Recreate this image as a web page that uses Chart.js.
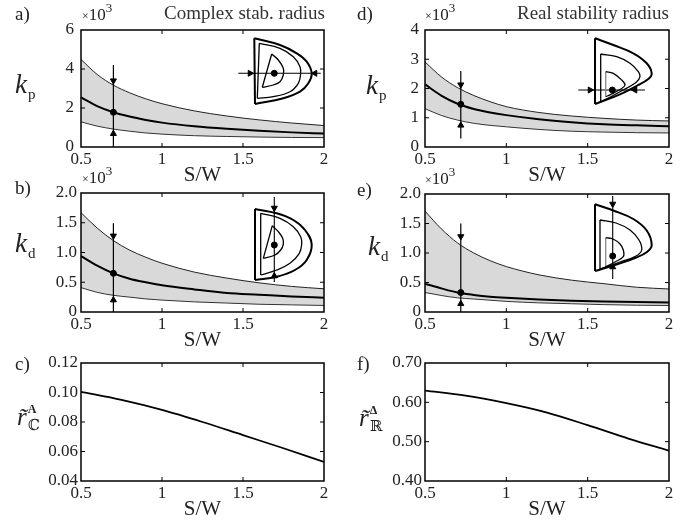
<!DOCTYPE html>
<html>
<head>
<meta charset="utf-8">
<script src="https://cdn.jsdelivr.net/npm/chart.js@4.4.0/dist/chart.umd.min.js"></script>
<style>
  body { margin: 0; background: #fff; width: 694px; height: 520px; position: relative; overflow: hidden;
         font-family: "Liberation Serif", "DejaVu Serif", serif; color: #222; }
  canvas { position: absolute; }
  .t { position: absolute; white-space: nowrap; line-height: 1; }
</style>
</head>
<body>
<canvas id="pa"></canvas><canvas id="pb"></canvas><canvas id="pc"></canvas>
<canvas id="pd"></canvas><canvas id="pe"></canvas><canvas id="pf"></canvas>
<canvas id="ia"></canvas><canvas id="ib"></canvas><canvas id="id"></canvas><canvas id="ie"></canvas>
<script>
// S/W grid used for the gain curves
const sw = [0.5, 0.6, 0.7, 0.8, 0.9, 1.0, 1.2, 1.4, 1.6, 1.8, 2.0];
const swTicks = [0.5, 1, 1.5, 2];

// a) kp, complex stability radius (x10^3)
const kpCUpper = [4.49, 3.72, 3.17, 2.78, 2.47, 2.22, 1.85, 1.59, 1.39, 1.23, 1.1];
const kpCMid   = [2.54, 2.1, 1.78, 1.56, 1.39, 1.25, 1.06, 0.93, 0.83, 0.75, 0.69];
const kpCLower = [1.29, 1.07, 0.92, 0.81, 0.72, 0.66, 0.58, 0.54, 0.51, 0.49, 0.48];
// b) kd, complex
const kdCUpper = [1.67, 1.41, 1.2, 1.04, 0.92, 0.82, 0.67, 0.57, 0.49, 0.43, 0.39];
const kdCMid   = [0.94, 0.78, 0.65, 0.56, 0.5, 0.45, 0.38, 0.32, 0.29, 0.26, 0.24];
const kdCLower = [0.41, 0.33, 0.28, 0.25, 0.22, 0.2, 0.17, 0.15, 0.13, 0.12, 0.11];
// d) kp, real stability radius
const kpRUpper = [2.91, 2.4, 2.03, 1.76, 1.55, 1.38, 1.18, 1.06, 0.98, 0.92, 0.89];
const kpRMid   = [2.14, 1.76, 1.48, 1.3, 1.18, 1.09, 0.95, 0.85, 0.78, 0.74, 0.71];
const kpRLower = [1.31, 1.08, 0.92, 0.81, 0.74, 0.69, 0.6, 0.54, 0.51, 0.49, 0.48];
// e) kd, real
const kdRUpper = [1.71, 1.41, 1.17, 1.0, 0.87, 0.77, 0.63, 0.54, 0.48, 0.42, 0.39];
const kdRMid   = [0.48, 0.4, 0.33, 0.29, 0.26, 0.24, 0.21, 0.19, 0.18, 0.17, 0.16];
const kdRLower = [0.33, 0.28, 0.24, 0.22, 0.2, 0.18, 0.155, 0.14, 0.125, 0.115, 0.11];

// c) and f) stability radius
const swR = [0.5, 0.75, 1, 1.25, 1.5, 1.75, 2];
const rComplex = [0.1005, 0.095, 0.0882, 0.08, 0.0711, 0.0622, 0.053];
const rReal = [0.63, 0.617, 0.598, 0.574, 0.542, 0.508, 0.477];

// tick values / labels
const kpCTicks = [0, 2, 4, 6];
const kpRTicks = [0, 1, 2, 3, 4];
const kdTicks = [0, 0.5, 1, 1.5, 2];
const kdTickLabels = ['0', '0.5', '1.0', '1.5', '2.0'];
const rCTicks = [0.04, 0.06, 0.08, 0.1, 0.12];
const rCTickLabels = ['0.04', '0.06', '0.08', '0.10', '0.12'];
const rRTicks = [0.4, 0.5, 0.6, 0.7];
const rRTickLabels = ['0.40', '0.50', '0.60', '0.70'];

// operating point markers: x, line from/to, down arrow, up arrow, dot
const markA = { x: 0.7, y0: 0, y1: 4.2, down: 3.4, up: 0.68, dot: 1.78 };
const markB = { x: 0.7, y0: 0, y1: 1.49, down: 1.28, up: 0.2, dot: 0.65 };
const markD = { x: 0.72, y0: 0.29, y1: 2.6, down: 2.13, up: 0.74, dot: 1.46 };
const markE = { x: 0.72, y0: 0, y1: 1.5, down: 1.28, up: 0.14, dot: 0.33 };

// inset sketches (local units of each inset box, y downward)
const aOuter = [[22.3,4.3],[48,11],[64.7,19.3],[74.7,27.7],[79.7,39.3],[76.3,49.3],[68,57.7],[51.3,64.3],[23,70]];
const aMid = [[27.3,9.3],[48,14.3],[61.3,22.7],[68,32.7],[68.5,41],[66.3,49.3],[58,57.7],[41.3,62.7],[25.3,64.3]];
const aInner = [[39.7,20],[46.3,26],[51.3,34.3],[51.3,41],[48,47.7],[41.3,51],[30.3,53.3]];
const aLine = [[6.3,39.3],[88.7,39.3]];
const aArrows = [[18,39.3,90],[83,39.3,270]];
const aDot = [42.3,39.3];

const bOuter = [[15,19],[36.7,23.3],[53.3,30],[65,40],[71.7,54.3],[66.7,70],[55,80],[36.7,86.7],[15,90]];
const bMid = [[20.7,23.3],[40,28.3],[53.3,36.7],[60.7,46.7],[61.7,54.3],[59.3,63.3],[50,73.3],[36.7,80],[20.7,85]];
const bInner = [[32.3,35.7],[38.3,41.7],[42.7,48.3],[43.3,54.3],[40.7,60],[35,65],[23.3,68.3]];
const bLine = [[34.3,7],[34.3,92]];
const bArrows = [[34.3,18,180],[34.3,86,0]];
const bDot = [34.3,55];

const dOuter = [[25,8.3],[43.3,15],[63.3,23.3],[76.7,33.3],[81.7,43.3],[78.3,49],[66,56.3],[50,64.3],[25,74]];
const dMid = [[30.7,24],[46.7,26.7],[60,33.3],[68.3,41.7],[70,46.7],[66,52.5],[50,61.7],[33.3,70.7],[30.7,71.7]];
const dInner = [[35.7,41.7],[43.3,43.3],[51.7,50],[55,55],[50,59.5],[40,64.8],[35.7,66.7]];
const dLine = [[8.3,60],[75,60]];
const dArrows = [[20,60,90],[65,60,270]];
const dDot = [42.3,60];

const eOuter = [[25,12.3],[43.3,18.5],[63.3,27],[76.7,38.5],[81.7,53],[77,60],[65,66],[48,72],[25,79]];
const eMid = [[30,28],[46,31],[60,38],[69,48],[71.7,58],[66,64],[50,70],[30,77]];
const eInner = [[35.7,45.7],[43,47],[50,52],[53.3,58],[53.3,64.7],[45,70],[35.7,74.7]];
const eLine = [[42.7,4],[42.7,87]];
const eArrows = [[42.7,12,180],[42.7,75,0]];
const eDot = [42.7,64];

const FONT = "'Liberation Serif', 'DejaVu Serif', serif";
Chart.defaults.font.family = FONT;
Chart.defaults.font.size = 17;
Chart.defaults.color = '#222';

const pts = (xs, ys) => xs.map((v, i) => ({ x: v, y: ys[i] }));
const xy = arr => arr.map(p => ({ x: p[0], y: p[1] }));

// box frame with inward ticks, matlab style
const frame = {
  id: 'frame',
  afterDatasetsDraw(chart) {
    const { ctx, chartArea: a, scales } = chart;
    const L = 4;
    ctx.save();
    ctx.strokeStyle = '#000';
    ctx.lineWidth = 1;
    ctx.beginPath();
    scales.x.ticks.forEach(t => {
      const p = scales.x.getPixelForValue(t.value);
      if (p <= a.left + 1 || p >= a.right - 1) return;
      ctx.moveTo(p, a.bottom); ctx.lineTo(p, a.bottom - L);
      ctx.moveTo(p, a.top); ctx.lineTo(p, a.top + L);
    });
    scales.y.ticks.forEach(t => {
      const p = scales.y.getPixelForValue(t.value);
      if (p <= a.top + 1 || p >= a.bottom - 1) return;
      ctx.moveTo(a.left, p); ctx.lineTo(a.left + L, p);
      ctx.moveTo(a.right, p); ctx.lineTo(a.right - L, p);
    });
    ctx.stroke();
    ctx.lineWidth = 1.5;
    ctx.strokeRect(a.left, a.top, a.right - a.left, a.bottom - a.top);
    ctx.restore();
  }
};

function bandSets(lower, upper, mid, m) {
  const line = { pointRadius: 0, cubicInterpolationMode: 'monotone', fill: false };
  const arrow = { showLine: false, pointStyle: 'triangle', pointRadius: 3.5,
                  backgroundColor: '#000', borderColor: '#000', borderWidth: 1 };
  return [
    { ...line, data: pts(sw, lower), borderColor: '#333', borderWidth: 1, order: 4 },
    { ...line, data: pts(sw, upper), borderColor: '#222', borderWidth: 1, order: 5,
      fill: '-1', backgroundColor: '#d9d9d9' },
    { ...line, data: pts(sw, mid), borderColor: '#000', borderWidth: 2, order: 3 },
    { data: [{ x: m.x, y: m.y0 }, { x: m.x, y: m.y1 }], borderColor: '#000', borderWidth: 1.2,
      pointRadius: 0, order: 2 },
    { ...arrow, data: [{ x: m.x, y: m.down }], rotation: 180, order: 1 },
    { ...arrow, data: [{ x: m.x, y: m.up }], rotation: 0, order: 1 },
    { data: [{ x: m.x, y: m.dot }], showLine: false, pointRadius: 3, backgroundColor: '#000',
      borderColor: '#000', order: 0 }
  ];
}

function panel(id, col, plot, yMin, yMax, yTicks, yLabels, datasets, tickPad) {
  const cv = document.getElementById(id);
  const top = plot.top - 12;
  cv.width = 347;
  cv.height = plot.bottom - top + 42;
  cv.style.left = col + 'px';
  cv.style.top = top + 'px';
  new Chart(cv, {
    type: 'line',
    data: { datasets },
    options: {
      responsive: false,
      animation: false,
      events: [],
      layout: { autoPadding: false, padding: { top: 12, right: col + 347 - plot.right, left: 0, bottom: 0 } },
      plugins: { legend: { display: false }, tooltip: { enabled: false } },
      scales: {
        x: {
          type: 'linear', min: 0.5, max: 2,
          afterBuildTicks: s => { s.ticks = swTicks.map(v => ({ value: v })); },
          afterFit: s => { s.height = 42; s.paddingLeft = 0; s.paddingRight = 0; },
          grid: { display: false, drawTicks: false },
          border: { display: false },
          ticks: { padding: 2, autoSkip: false, maxRotation: 0, color: '#222',
                   font: { family: FONT, size: 17 }, callback: v => String(v) },
          title: { display: true, text: 'S/W', font: { family: FONT, size: 21 }, color: '#222',
                   padding: { top: 0, bottom: 1 } }
        },
        y: {
          type: 'linear', min: yMin, max: yMax,
          afterBuildTicks: s => { s.ticks = yTicks.map(v => ({ value: v })); },
          afterFit: s => { s.width = plot.left - col; s.paddingTop = 0; s.paddingBottom = 0; },
          grid: { display: false, drawTicks: false },
          border: { display: false },
          ticks: { padding: tickPad, autoSkip: false, color: '#222',
                   font: { family: FONT, size: 17 }, callback: (v, i) => yLabels[i] }
        }
      }
    },
    plugins: [frame]
  });
}

function inset(id, left, top, w, h, outer, mid, inner, mline, arrows, dot, innerEdgeColor) {
  const cv = document.getElementById(id);
  cv.width = w; cv.height = h;
  cv.style.left = left + 'px'; cv.style.top = top + 'px';
  const curve = { pointRadius: 0, tension: 0.4, fill: false, borderColor: '#000', clip: false };
  const edge = { pointRadius: 0, tension: 0, fill: false, borderColor: '#000', clip: false };
  const first = a => a[0], last = a => a[a.length - 1];
  new Chart(cv, {
    type: 'line',
    data: {
      datasets: [
        { ...curve, data: xy(outer), borderWidth: 2 },
        { ...edge, data: xy([last(outer), first(outer)]), borderWidth: 2 },
        { ...curve, data: xy(mid), borderWidth: 1.3 },
        { ...edge, data: xy([last(mid), first(mid)]), borderWidth: 1.3 },
        { ...curve, data: xy(inner), borderWidth: 1.3 },
        { ...edge, data: xy([last(inner), first(inner)]), borderWidth: 1.3, borderColor: innerEdgeColor },
        { ...edge, data: xy(mline), borderWidth: 1.1 },
        ...arrows.map(a => ({ data: [{ x: a[0], y: a[1] }], showLine: false, pointStyle: 'triangle',
          pointRadius: 3.5, rotation: a[2], backgroundColor: '#000', borderColor: '#000', clip: false })),
        { data: [{ x: dot[0], y: dot[1] }], showLine: false, pointRadius: 3, backgroundColor: '#000',
          borderColor: '#000', clip: false }
      ]
    },
    options: {
      responsive: false, animation: false, events: [],
      layout: { autoPadding: false, padding: 0 },
      plugins: { legend: { display: false }, tooltip: { enabled: false } },
      scales: {
        x: { type: 'linear', min: 0, max: w, display: false },
        y: { type: 'linear', min: 0, max: h, reverse: true, display: false }
      }
    }
  });
}

panel('pa', 0, { left: 81, right: 324, top: 30, bottom: 147 }, 0, 6, kpCTicks, kpCTicks.map(String),
      bandSets(kpCLower, kpCUpper, kpCMid, markA), 7);
panel('pb', 0, { left: 81, right: 324, top: 193, bottom: 312 }, 0, 2, kdTicks, kdTickLabels,
      bandSets(kdCLower, kdCUpper, kdCMid, markB), 4);
panel('pc', 0, { left: 81, right: 324, top: 363, bottom: 481 }, 0.04, 0.12, rCTicks, rCTickLabels,
      [{ data: pts(swR, rComplex), borderColor: '#000', borderWidth: 1.8, pointRadius: 0,
         cubicInterpolationMode: 'monotone', fill: false }], 3);
panel('pd', 347, { left: 425, right: 669, top: 30, bottom: 147 }, 0, 4, kpRTicks, kpRTicks.map(String),
      bandSets(kpRLower, kpRUpper, kpRMid, markD), 6);
panel('pe', 347, { left: 425, right: 669, top: 194, bottom: 312 }, 0, 2, kdTicks, kdTickLabels,
      bandSets(kdRLower, kdRUpper, kdRMid, markE), 4);
panel('pf', 347, { left: 425, right: 669, top: 363, bottom: 481 }, 0.4, 0.7, rRTicks, rRTickLabels,
      [{ data: pts(swR, rReal), borderColor: '#000', borderWidth: 1.8, pointRadius: 0,
         cubicInterpolationMode: 'monotone', fill: false }], 3);

inset('ia', 232, 34, 96, 76, aOuter, aMid, aInner, aLine, aArrows, aDot, '#000');
inset('ib', 240, 190, 90, 96, bOuter, bMid, bInner, bLine, bArrows, bDot, '#000');
inset('id', 570, 30, 100, 80, dOuter, dMid, dInner, dLine, dArrows, dDot, '#888');
inset('ie', 570, 192, 100, 92, eOuter, eMid, eInner, eLine, eArrows, eDot, '#888');

// text: panel letters, titles, axis symbols
function label(html, x, baseline, size, opts = {}) {
  const el = document.createElement('div');
  el.className = 't';
  el.innerHTML = html;
  el.style.fontSize = size + 'px';
  el.style.top = (baseline - 0.84 * size) + 'px';
  if (opts.right) el.style.right = (694 - x) + 'px'; else el.style.left = x + 'px';
  if (opts.color) el.style.color = opts.color;
  document.body.appendChild(el);
}
label('a)', 15, 20, 19); label('b)', 15, 194, 19); label('c)', 15, 370, 19);
label('d)', 357, 20, 19); label('e)', 357, 196, 19); label('f)', 357, 370, 19);
label('Complex stab. radius', 325, 19, 19, { right: true, color: '#333' });
label('Real stability radius', 669, 19, 19, { right: true, color: '#333' });
const times3 = '<span style="font-size:12px">×</span>10<span style="font-size:13px;position:relative;top:-8px">3</span>';
label(times3, 82, 20, 17); label(times3, 425, 20, 17);
label(times3, 82, 183, 17); label(times3, 425, 184, 17);
const kSym = s => '<i style="font-size:27px">k</i><span style="font-size:15px;position:relative;top:6px;left:1px">' + s + '</span>';
label(kSym('p'), 15, 94, 27); label(kSym('p'), 366, 95, 27);
label(kSym('d'), 15, 253, 27); label(kSym('d'), 368, 256, 27);
const rSym = (sup, sub) => '<i style="font-size:25px">r̃</i><span style="display:inline-block;vertical-align:top;line-height:1;margin-left:1px">' +
  '<b style="display:block;font-size:12px;margin-top:-1px">' + sup + '</b>' +
  '<span style="display:block;font-size:15px;margin-top:3px;font-family:\'DejaVu Serif\',serif">' + sub + '</span></span>';
label(rSym('A', 'ℂ'), 17, 425, 25); label(rSym('Δ', 'ℝ'), 359, 426, 25);
</script>
</body>
</html>
